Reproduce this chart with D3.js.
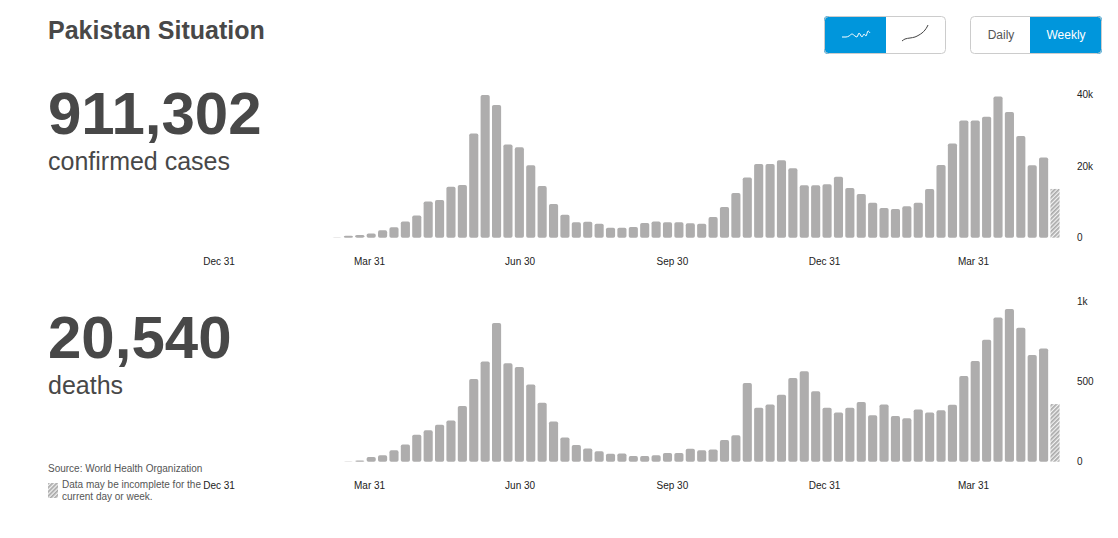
<!DOCTYPE html>
<html>
<head>
<meta charset="utf-8">
<script src="https://cdnjs.cloudflare.com/ajax/libs/d3/7.8.5/d3.min.js"></script>
<style>
  body { margin: 0; background: #fff; font-family: "Liberation Sans", Arial, sans-serif; }
  svg { display: block; }
</style>
</head>
<body>
<svg id="chart" width="1118" height="538"></svg>
<script>
// one value per week, the last one is the incomplete week
var cases = [30, 550, 750, 1200, 2050, 2900, 4550, 6200, 10100, 10500, 14200, 14700, 29100, 39800, 37000, 26000,
  25200, 20200, 14400, 9400, 6400, 4300, 4450, 3900, 2800, 2800, 3000, 4100, 4550, 4300, 4300, 4000,
  3900, 5750, 8550, 12450, 16800, 20550, 20550, 21600, 19350, 14600, 14600, 14900, 17000, 13850, 12200, 9750,
  8300, 8000, 8750, 9750, 13600, 20300, 26300, 32700, 32700, 33750, 39400, 35050, 28350, 20200, 22400, 13600];
var deaths = [0, 2, 8, 29, 40, 71, 108, 169, 196, 231, 258, 348, 517, 627, 867, 615,
  592, 483, 369, 252, 152, 104, 83, 65, 50, 52, 35, 35, 40, 54, 54, 81,
  71, 77, 135, 165, 492, 337, 358, 419, 523, 565, 440, 337, 308, 337, 373, 290,
  358, 285, 271, 327, 308, 321, 356, 535, 629, 762, 902, 954, 837, 667, 708, 360];
var weeks = d3.range(cases.length);

var dateTicks = ["2019-12-31", "2020-03-31", "2020-06-30", "2020-09-30", "2020-12-31", "2021-03-31"];
var casesTicks = [0, 20000, 40000];
var deathsTicks = [0, 500, 1000];
var casesLabels = ["0", "20k", "40k"];
var deathsLabels = ["0", "500", "1k"];

// little glyphs in the two toggle buttons
var iconLinear = [[0, 9], [4, 9], [7, 8], [10, 6], [13, 8], [15, 9], [17, 5], [20, 9], [22, 6], [24, 8], [26, 3], [28, 5]];
var iconCumulative = [[0, 16], [3, 14], [8, 13], [13, 12], [17, 10], [20, 8], [23, 5], [25, 2], [26, 0]];

var parseDate = d3.timeParse("%Y-%m-%d");
var grey = "#aeadad";
var dark = "#484848";
var blue = "#0096dc";

var svg = d3.select("#chart");

var defs = svg.append("defs");
var hatch = defs.append("pattern")
    .attr("id", "hatch")
    .attr("width", 3)
    .attr("height", 3)
    .attr("patternUnits", "userSpaceOnUse")
    .attr("patternTransform", "rotate(45)");
hatch.append("rect").attr("width", 3).attr("height", 3).attr("fill", "#f2f2f2");
hatch.append("rect").attr("width", 1.7).attr("height", 3).attr("fill", "#a9a9a9");

var x = d3.scaleBand()
    .domain(weeks)
    .range([331.3, 1060.7])
    .paddingInner(0.2)
    .paddingOuter(0.1);

var xDate = d3.scaleTime()
    .domain([parseDate(dateTicks[0]), parseDate(dateTicks[dateTicks.length - 1])])
    .range([218.5, 973]);

function drawPanel(values, yDomain, yRange, ticks, labels) {
  var y = d3.scaleLinear().domain(yDomain).range(yRange);
  var g = svg.append("g");
  var last = values.length - 1;

  g.selectAll(".bar")
      .data(values)
    .enter().append("rect")
      .attr("class", "bar")
      .attr("x", function(d, i) { return x(i); })
      .attr("width", x.bandwidth())
      .attr("y", function(d) { return y(d); })
      .attr("height", function(d) { return y(0) - y(d); })
      .attr("rx", function(d, i) { return i == last ? 0 : 1.8; })
      .attr("fill", function(d, i) { return i == last ? "url(#hatch)" : grey; });

  var xAxis = g.append("g")
      .attr("transform", "translate(0," + y(0) + ")")
      .call(d3.axisBottom(xDate)
        .tickValues(dateTicks.map(parseDate))
        .tickFormat(d3.timeFormat("%b %d"))
        .tickSize(0)
        .tickPadding(20));
  xAxis.select(".domain").remove();

  var yAxis = g.append("g")
      .attr("transform", "translate(1077,0)")
      .call(d3.axisRight(y)
        .tickValues(ticks)
        .tickFormat(function(d, i) { return labels[i]; })
        .tickSize(0)
        .tickPadding(0));
  yAxis.select(".domain").remove();

  g.selectAll(".tick text")
      .attr("font-family", "'Liberation Sans', Arial, sans-serif")
      .attr("font-size", 10)
      .attr("fill", "#222");
}

drawPanel(cases, [0, 40000], [237.7, 94.3], casesTicks, casesLabels);
drawPanel(deaths, [0, 1000], [461.7, 301.7], deathsTicks, deathsLabels);

function addText(txt, tx, ty, size, weight, color) {
  return svg.append("text")
      .attr("x", tx)
      .attr("y", ty)
      .attr("font-size", size)
      .attr("font-weight", weight)
      .attr("fill", color)
      .text(txt);
}

addText("Pakistan Situation", 48, 39, 25, "bold", dark);
addText("911,302", 48, 134, 60, "bold", dark);
addText("confirmed cases", 48, 170, 25, "normal", dark);
addText("20,540", 48, 358, 60, "bold", dark);
addText("deaths", 48, 394, 25, "normal", dark);

addText("Source: World Health Organization", 48, 472, 10, "normal", "#555");
addText("Data may be incomplete for the", 62, 488, 10, "normal", "#555");
addText("current day or week.", 62, 500, 10, "normal", "#555");
svg.append("rect")
    .attr("x", 48)
    .attr("y", 483)
    .attr("width", 10)
    .attr("height", 15)
    .attr("fill", "url(#hatch)");

// toggle buttons: outer box, then the active half
function drawToggle(left, width, split, activeFirst) {
  var g = svg.append("g");
  var clipId = "clip" + left;
  defs.append("clipPath").attr("id", clipId)
    .append("rect")
      .attr("x", left)
      .attr("y", 16)
      .attr("width", width)
      .attr("height", 38)
      .attr("rx", 4);
  g.append("rect")
      .attr("x", activeFirst ? left : split)
      .attr("y", 16)
      .attr("width", activeFirst ? split - left : left + width - split)
      .attr("height", 38)
      .attr("fill", blue)
      .attr("clip-path", "url(#" + clipId + ")");
  g.append("rect")
      .attr("x", left + 0.5)
      .attr("y", 16.5)
      .attr("width", width - 1)
      .attr("height", 37)
      .attr("rx", 4)
      .attr("fill", "none")
      .attr("stroke", "#ccc");
}

drawToggle(824, 122, 886, true);
drawToggle(970, 132, 1030, false);

function drawIcon(points, left, top, color) {
  var iconX = d3.scaleLinear().domain([0, 28]).range([left, left + 28]);
  var iconY = d3.scaleLinear().domain([0, 16]).range([top, top + 16]);
  var line = d3.line()
      .x(function(d) { return iconX(d[0]); })
      .y(function(d) { return iconY(d[1]); })
      .curve(d3.curveMonotoneX);
  svg.append("path")
      .attr("d", line(points))
      .attr("fill", "none")
      .attr("stroke", color)
      .attr("stroke-width", 1);
}

drawIcon(iconLinear, 842, 28, "#fff");
drawIcon(iconCumulative, 902, 25, "#444");

addText("Daily", 1001, 39, 12, "normal", "#555").attr("text-anchor", "middle");
addText("Weekly", 1066, 39, 12, "normal", "#fff").attr("text-anchor", "middle");
</script>
</body>
</html>
